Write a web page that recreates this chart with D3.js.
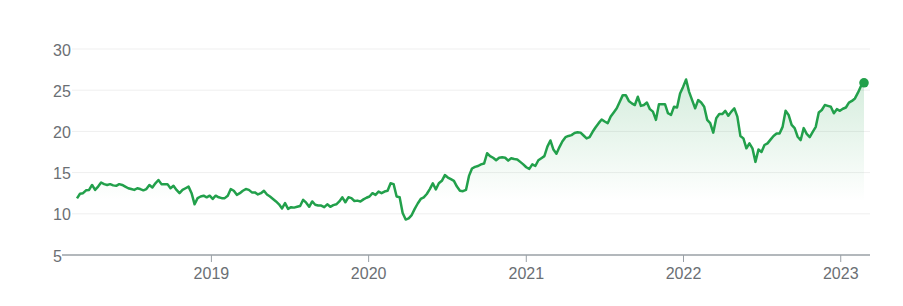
<!DOCTYPE html>
<html>
<head>
<meta charset="utf-8">
<script src="https://cdn.jsdelivr.net/npm/d3@7"></script>
<style>
  html, body { margin: 0; padding: 0; background: #fff; }
  svg { display: block; font-family: Arial, "Liberation Sans", sans-serif; }
</style>
</head>
<body>
<svg id="chart" width="903" height="306"></svg>
<script>
// ---- data (weekly closes) ----
const startDate = "2018-02-23";
const stepDays = 7;
const prices = [
  11.88,12.44,12.5,12.85,12.9,13.5,12.9,13.3,13.8,13.6,
  13.5,13.6,13.45,13.4,13.6,13.5,13.3,13.1,13.0,12.9,
  13.1,13.0,12.85,13.0,13.5,13.2,13.7,14.1,13.6,13.6,
  13.6,13.1,13.4,12.9,12.5,12.9,13.1,13.3,12.5,11.15,
  11.9,12.1,12.2,12.0,12.2,11.8,12.2,12.0,11.9,11.9,
  12.2,13.0,12.8,12.3,12.5,12.8,13.0,12.9,12.6,12.6,
  12.35,12.5,12.8,12.35,12.1,11.8,11.5,11.15,10.65,11.3,
  10.6,10.8,10.75,10.85,10.95,11.7,11.35,10.85,11.5,11.1,
  11.0,11.0,10.8,11.15,10.85,11.05,11.15,11.5,12.0,11.4,
  12.0,11.9,11.55,11.6,11.5,11.75,11.95,12.1,12.5,12.3,
  12.7,12.5,12.7,12.8,13.7,13.6,12.1,12.0,10.1,9.3,
  9.45,9.85,10.6,11.25,11.8,12.0,12.4,13.0,13.7,12.95,
  13.7,14.0,14.7,14.4,14.2,14.0,13.3,12.8,12.75,12.9,
  14.6,15.5,15.7,15.8,16.0,16.1,17.35,17.0,16.8,16.5,
  16.8,16.85,16.8,16.45,16.75,16.65,16.6,16.3,16.0,15.65,
  15.45,16.0,15.8,16.5,16.75,17.0,18.15,18.9,17.8,17.3,
  18.1,18.8,19.3,19.45,19.55,19.8,19.9,19.85,19.5,19.15,
  19.3,19.95,20.5,21.0,21.45,21.2,21.0,21.8,22.3,22.8,
  23.6,24.4,24.4,23.7,23.4,23.2,24.2,23.1,23.2,23.5,
  22.7,22.4,21.4,23.3,23.3,23.3,22.2,22.0,23.0,22.9,
  24.6,25.4,26.3,24.8,23.8,22.8,23.8,23.5,23.0,21.4,
  21.0,19.85,21.6,22.1,22.1,22.5,21.9,22.4,22.8,21.8,
  19.45,19.15,17.95,18.55,17.95,16.3,17.8,17.5,18.35,18.55,
  19.0,19.45,19.75,19.75,20.55,22.5,22.0,20.8,20.4,19.35,
  18.95,20.4,19.7,19.3,19.95,20.55,22.3,22.6,23.2,23.1,
  23.0,22.2,22.7,22.5,22.75,22.9,23.5,23.7,24.0,24.7,
  25.5,25.9
];
const yTickValues = [5, 10, 15, 20, 25, 30];
const xTickYears = ["2019", "2020", "2021", "2022", "2023"];

// ---- build ----
const parse = d3.timeParse("%Y-%m-%d");
const t0 = parse(startDate);
const data = prices.map((v, i) => ({ date: d3.timeDay.offset(t0, i * stepDays), value: v }));

const svg = d3.select("#chart");
const green = "#22a04b";

const x = d3.scaleTime()
  .domain(d3.extent(data, d => d.date))
  .range([77, 864]);
const y = d3.scaleLinear()
  .domain([5, 30])
  .range([255, 49]);

// gradient
const defs = svg.append("defs");
const grad = defs.append("linearGradient")
  .attr("id", "areaGrad")
  .attr("gradientUnits", "userSpaceOnUse")
  .attr("x1", 0).attr("x2", 0)
  .attr("y1", y(27)).attr("y2", y(11.5));
grad.append("stop").attr("offset", "0%").attr("stop-color", green).attr("stop-opacity", 0.2);
grad.append("stop").attr("offset", "100%").attr("stop-color", green).attr("stop-opacity", 0);

// gridlines
svg.append("g")
  .selectAll("line")
  .data(yTickValues.filter(v => v !== 5))
  .join("line")
  .attr("x1", 72).attr("x2", 870)
  .attr("y1", d => y(d)).attr("y2", d => y(d))
  .attr("stroke", "#efefef")
  .attr("stroke-width", 1);

// y labels
svg.append("g")
  .selectAll("text")
  .data(yTickValues)
  .join("text")
  .attr("x", 53)
  .attr("y", d => y(d) + 1)
  .attr("dominant-baseline", "central")
  .attr("fill", "#6b6f74")
  .attr("font-size", 16)
  .text(d => d);

// area
const area = d3.area()
  .x(d => x(d.date))
  .y0(y(5))
  .y1(d => y(d.value));
svg.append("path")
  .datum(data)
  .attr("d", area)
  .attr("fill", "url(#areaGrad)");

// x axis line and ticks
svg.append("line")
  .attr("x1", 62).attr("x2", 870)
  .attr("y1", y(5)).attr("y2", y(5))
  .attr("stroke", "#9aa0a6")
  .attr("stroke-width", 1.5);

const xTicks = xTickYears.map(s => d3.timeParse("%Y")(s));
const xg = svg.append("g");
xg.selectAll("line")
  .data(xTicks)
  .join("line")
  .attr("x1", d => x(d)).attr("x2", d => x(d))
  .attr("y1", y(5)).attr("y2", y(5) + 7)
  .attr("stroke", "#9aa0a6")
  .attr("stroke-width", 1);
xg.selectAll("text")
  .data(xTicks)
  .join("text")
  .attr("x", d => x(d))
  .attr("y", 273)
  .attr("text-anchor", "middle")
  .attr("dominant-baseline", "central")
  .attr("fill", "#6b6f74")
  .attr("font-size", 16)
  .text(d => d3.timeFormat("%Y")(d));

// line
const line = d3.line()
  .x(d => x(d.date))
  .y(d => y(d.value));
svg.append("path")
  .datum(data)
  .attr("d", line)
  .attr("fill", "none")
  .attr("stroke", green)
  .attr("stroke-width", 2.5)
  .attr("stroke-linejoin", "round");

// end dot
const last = data[data.length - 1];
svg.append("circle")
  .attr("cx", x(last.date))
  .attr("cy", y(last.value))
  .attr("r", 4.8)
  .attr("fill", green);
</script>
</body>
</html>
